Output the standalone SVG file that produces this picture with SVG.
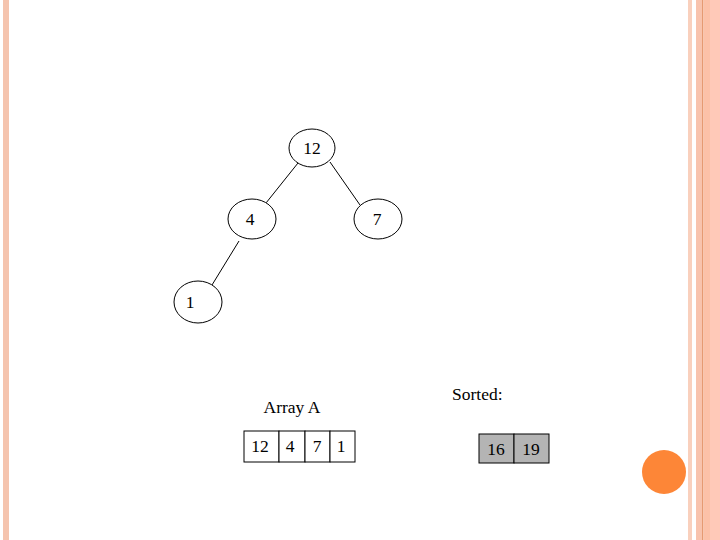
<svg xmlns="http://www.w3.org/2000/svg" width="720" height="540" viewBox="0 0 720 540">
<style>
text{font-family:"Liberation Serif","Times New Roman",serif;font-size:17.5px;fill:#000}
.c{text-anchor:middle}
.n{fill:#fff;stroke:#000;stroke-width:1}
.e{stroke:#000;stroke-width:1;fill:none}
.cell{fill:#fff;stroke:#000;stroke-width:1}
.gcell{fill:#b4b4b4;stroke:#000;stroke-width:1}
</style>
<rect width="720" height="540" fill="#fff"/>
<rect x="3" y="0" width="6" height="540" fill="#f5c4ae"/>
<rect x="688" y="0" width="4" height="540" fill="#f9d0bd"/>
<rect x="696" y="0" width="6" height="540" fill="#f8c3ad"/>
<rect x="702" y="0" width="1.5" height="540" fill="#e69a72"/>
<rect x="703.5" y="0" width="6.5" height="540" fill="#fcc1a8"/>
<rect x="710" y="0" width="10" height="540" fill="#ffc9b8"/>
<g id="edges">
<line class="e" x1="298" y1="163" x2="266" y2="203"/>
<line class="e" x1="330" y1="162" x2="360" y2="205"/>
<line class="e" x1="239" y1="241" x2="212" y2="285"/>
</g>
<g id="n12"><ellipse class="n" cx="312" cy="148" rx="23" ry="19"/><text class="c" x="312" y="154">12</text></g>
<g id="n4"><ellipse class="n" cx="252" cy="219" rx="24" ry="20"/><text class="c" x="250" y="225">4</text></g>
<g id="n7"><ellipse class="n" cx="378" cy="219" rx="24" ry="20"/><text class="c" x="377" y="225">7</text></g>
<g id="n1"><ellipse class="n" cx="198" cy="302" rx="24" ry="21"/><text class="c" x="190" y="308">1</text></g>
<g id="arrayA">
<text class="c" x="292" y="413">Array A</text>
<rect class="cell" x="244" y="431" width="35" height="31"/>
<rect class="cell" x="279" y="431" width="26" height="31"/>
<rect class="cell" x="305" y="431" width="25" height="31"/>
<rect class="cell" x="330" y="431" width="25" height="31"/>
<text class="c" x="260" y="452">12</text>
<text class="c" x="290" y="452">4</text>
<text class="c" x="317" y="452">7</text>
<text class="c" x="341" y="452">1</text>
</g>
<g id="sorted">
<text x="452" y="400">Sorted:</text>
<rect class="gcell" x="479" y="434" width="35" height="29"/>
<rect class="gcell" x="514" y="434" width="35" height="29"/>
<text class="c" x="496" y="455">16</text>
<text class="c" x="531" y="455">19</text>
</g>
<circle cx="664" cy="472" r="22" fill="#fd8637"/>
</svg>
